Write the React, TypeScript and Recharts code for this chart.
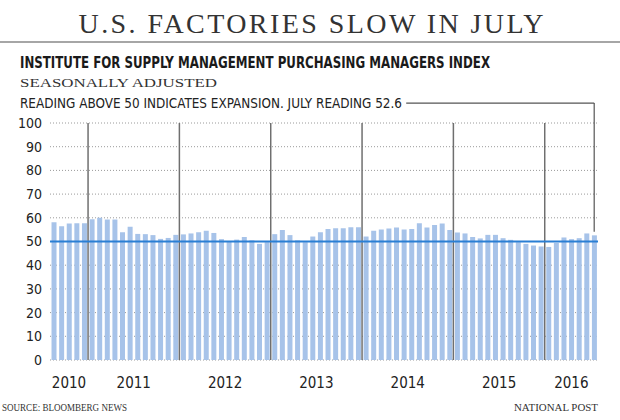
import React from 'react';
import { BarChart, Bar, XAxis, YAxis, CartesianGrid, ReferenceLine } from 'recharts';

const months = [
  'Aug 2010', 'Sep 2010', 'Oct 2010', 'Nov 2010', 'Dec 2010',
  'Jan 2011', 'Feb 2011', 'Mar 2011', 'Apr 2011', 'May 2011', 'Jun 2011', 'Jul 2011', 'Aug 2011', 'Sep 2011', 'Oct 2011', 'Nov 2011', 'Dec 2011',
  'Jan 2012', 'Feb 2012', 'Mar 2012', 'Apr 2012', 'May 2012', 'Jun 2012', 'Jul 2012', 'Aug 2012', 'Sep 2012', 'Oct 2012', 'Nov 2012', 'Dec 2012',
  'Jan 2013', 'Feb 2013', 'Mar 2013', 'Apr 2013', 'May 2013', 'Jun 2013', 'Jul 2013', 'Aug 2013', 'Sep 2013', 'Oct 2013', 'Nov 2013', 'Dec 2013',
  'Jan 2014', 'Feb 2014', 'Mar 2014', 'Apr 2014', 'May 2014', 'Jun 2014', 'Jul 2014', 'Aug 2014', 'Sep 2014', 'Oct 2014', 'Nov 2014', 'Dec 2014',
  'Jan 2015', 'Feb 2015', 'Mar 2015', 'Apr 2015', 'May 2015', 'Jun 2015', 'Jul 2015', 'Aug 2015', 'Sep 2015', 'Oct 2015', 'Nov 2015', 'Dec 2015',
  'Jan 2016', 'Feb 2016', 'Mar 2016', 'Apr 2016', 'May 2016', 'Jun 2016', 'Jul 2016',
];

const pmi = [
  58.1, 56.4, 57.6, 57.7, 57.7,
  59.4, 60.0, 59.3, 59.3, 53.9, 56.2, 53.2, 53.1, 52.7, 51.1, 51.5, 52.8,
  53.0, 53.4, 53.9, 54.5, 53.6, 51.0, 49.8, 50.8, 51.9, 50.5, 49.0, 49.7,
  53.1, 54.8, 52.7, 50.5, 49.7, 52.1, 53.9, 55.3, 55.6, 55.6, 56.0, 56.0,
  52.1, 54.5, 55.1, 55.5, 55.9, 55.1, 55.3, 57.7, 55.9, 57.0, 57.6, 54.8,
  53.8, 53.4, 51.9, 51.3, 52.8, 52.8, 51.4, 50.7, 49.7, 49.0, 48.3, 47.9,
  47.7, 49.4, 51.7, 51.0, 51.4, 53.4, 52.6,
];

const yearLabels = ['2010', '2011', '2012', '2013', '2014', '2015', '2016'];
const yTicks = [0, 10, 20, 30, 40, 50, 60, 70, 80, 90, 100];
const threshold = 50;

const titleText = 'U.S. FACTORIES SLOW IN JULY';
const headingText = 'INSTITUTE FOR SUPPLY MANAGEMENT PURCHASING MANAGERS INDEX';
const subText = 'SEASONALLY ADJUSTED';
const noteText = 'READING ABOVE 50 INDICATES EXPANSION. JULY READING 52.6';
const sourceText = 'SOURCE: BLOOMBERG NEWS';
const creditText = 'NATIONAL POST';

const COND = "'Liberation Sans Narrow', 'DejaVu Sans Condensed', 'Roboto', sans-serif";
const SERIF = "'Liberation Serif', 'DejaVu Serif', serif";

const data = months.map((m, i) => ({ month: m, pos: i + 0.5, value: pmi[i] }));
const yearStarts = months.map((m, i) => (m.startsWith('Jan') ? i : -1)).filter((i) => i > 0);
const bounds = [0, ...yearStarts, months.length];
const yearMids = yearLabels.map((_, k) => (bounds[k] + bounds[k + 1]) / 2);
const monthTicks = Array.from({ length: months.length + 1 }, (_, i) => i);
const lastIdx = months.length - 1;
const lastVal = pmi[lastIdx];
const noteLevel = 108.4;
const noteLineStart = 46.8;

const MonthTick = (props: any) => {
  const { x, y, payload } = props;
  const isYear = yearStarts.includes(payload.value);
  return (
    <line
      x1={x}
      x2={x}
      y1={y}
      y2={y + (isYear ? 13 : 5)}
      stroke={isYear ? '#6f6f6f' : '#9a9a9a'}
      strokeWidth={isYear ? 1.5 : 1}
    />
  );
};

const YearTick = (props: any) => {
  const { x, y, payload } = props;
  const k = yearMids.indexOf(payload.value);
  return (
    <text x={x} y={y - 2} textAnchor="middle" fontSize={15} fontFamily={COND} fill="#222">
      {yearLabels[k]}
    </text>
  );
};

export default function App() {
  return (
    <div style={{ position: 'absolute', left: 0, top: 0, width: 620, height: 420, background: '#fff' }}>
      <BarChart
        width={620}
        height={420}
        data={data}
        margin={{ top: 123, right: 22, bottom: 30, left: 0 }}
        barCategoryGap="20%"
      >
        <CartesianGrid vertical={false} stroke="#9a9a9a" strokeDasharray="1 2" />
        <XAxis dataKey="month" hide />
        <XAxis
          xAxisId="n"
          dataKey="pos"
          type="number"
          domain={[0, months.length]}
          ticks={monthTicks}
          interval={0}
          tick={<MonthTick />}
          tickLine={false}
          tickSize={0}
          tickMargin={0}
          axisLine={{ stroke: '#6f6f6f', strokeWidth: 1.5 }}
          height={0}
          allowDataOverflow
        />
        <XAxis
          xAxisId="yr"
          dataKey="pos"
          type="number"
          domain={[0, months.length]}
          ticks={yearMids}
          interval={0}
          tick={<YearTick />}
          tickLine={false}
          tickSize={0}
          tickMargin={0}
          axisLine={false}
          height={30}
          allowDataOverflow
        />
        <YAxis
          domain={[0, 100]}
          ticks={yTicks}
          interval={0}
          width={50}
          axisLine={false}
          tickLine={false}
          tickSize={0}
          tickMargin={8}
          tick={{ fontSize: 14, fill: '#222', fontFamily: COND }}
        />
        <Bar dataKey="value" fill="#a7c3e9" isAnimationActive={false} />
        {yearStarts.map((s) => (
          <ReferenceLine key={s} xAxisId="n" x={s} stroke="#6f6f6f" strokeWidth={1.5} />
        ))}
        <ReferenceLine y={threshold} stroke="#2a7fd4" strokeWidth={2} />
        <ReferenceLine
          xAxisId="n"
          ifOverflow="visible"
          segment={[
            { x: lastIdx + 0.5, y: lastVal + 1.5 },
            { x: lastIdx + 0.5, y: noteLevel },
          ]}
          stroke="#555"
          strokeWidth={1.2}
        />
        <ReferenceLine
          xAxisId="n"
          ifOverflow="visible"
          segment={[
            { x: noteLineStart, y: noteLevel },
            { x: lastIdx + 0.5, y: noteLevel },
          ]}
          stroke="#555"
          strokeWidth={1.2}
        />
      </BarChart>
      <svg
        width={620}
        height={420}
        style={{ position: 'absolute', left: 0, top: 0, pointerEvents: 'none' }}
      >
        <text x={311} y={33} textAnchor="middle" fontFamily={SERIF} fontSize={28} fill="#333" textLength={465} lengthAdjust="spacing">
          {titleText}
        </text>
        <line x1={0} x2={620} y1={42} y2={42} stroke="#888" strokeWidth={1.5} />
        <text x={20} y={68} fontFamily={COND} fontWeight="bold" fontSize={15.5} fill="#1a1a1a" textLength={470} lengthAdjust="spacingAndGlyphs">
          {headingText}
        </text>
        <text x={20} y={87} fontFamily={SERIF} fontSize={13} fill="#333" textLength={197} lengthAdjust="spacingAndGlyphs">
          {subText}
        </text>
        <text x={20} y={108} fontFamily={COND} fontSize={14.5} fill="#222" textLength={382} lengthAdjust="spacingAndGlyphs">
          {noteText}
        </text>
        <text x={2} y={411} fontFamily={SERIF} fontSize={11} fill="#333" textLength={125} lengthAdjust="spacingAndGlyphs">
          {sourceText}
        </text>
        <text x={598} y={411} textAnchor="end" fontFamily={SERIF} fontSize={11} fill="#333" textLength={84} lengthAdjust="spacingAndGlyphs">
          {creditText}
        </text>
      </svg>
    </div>
  );
}
